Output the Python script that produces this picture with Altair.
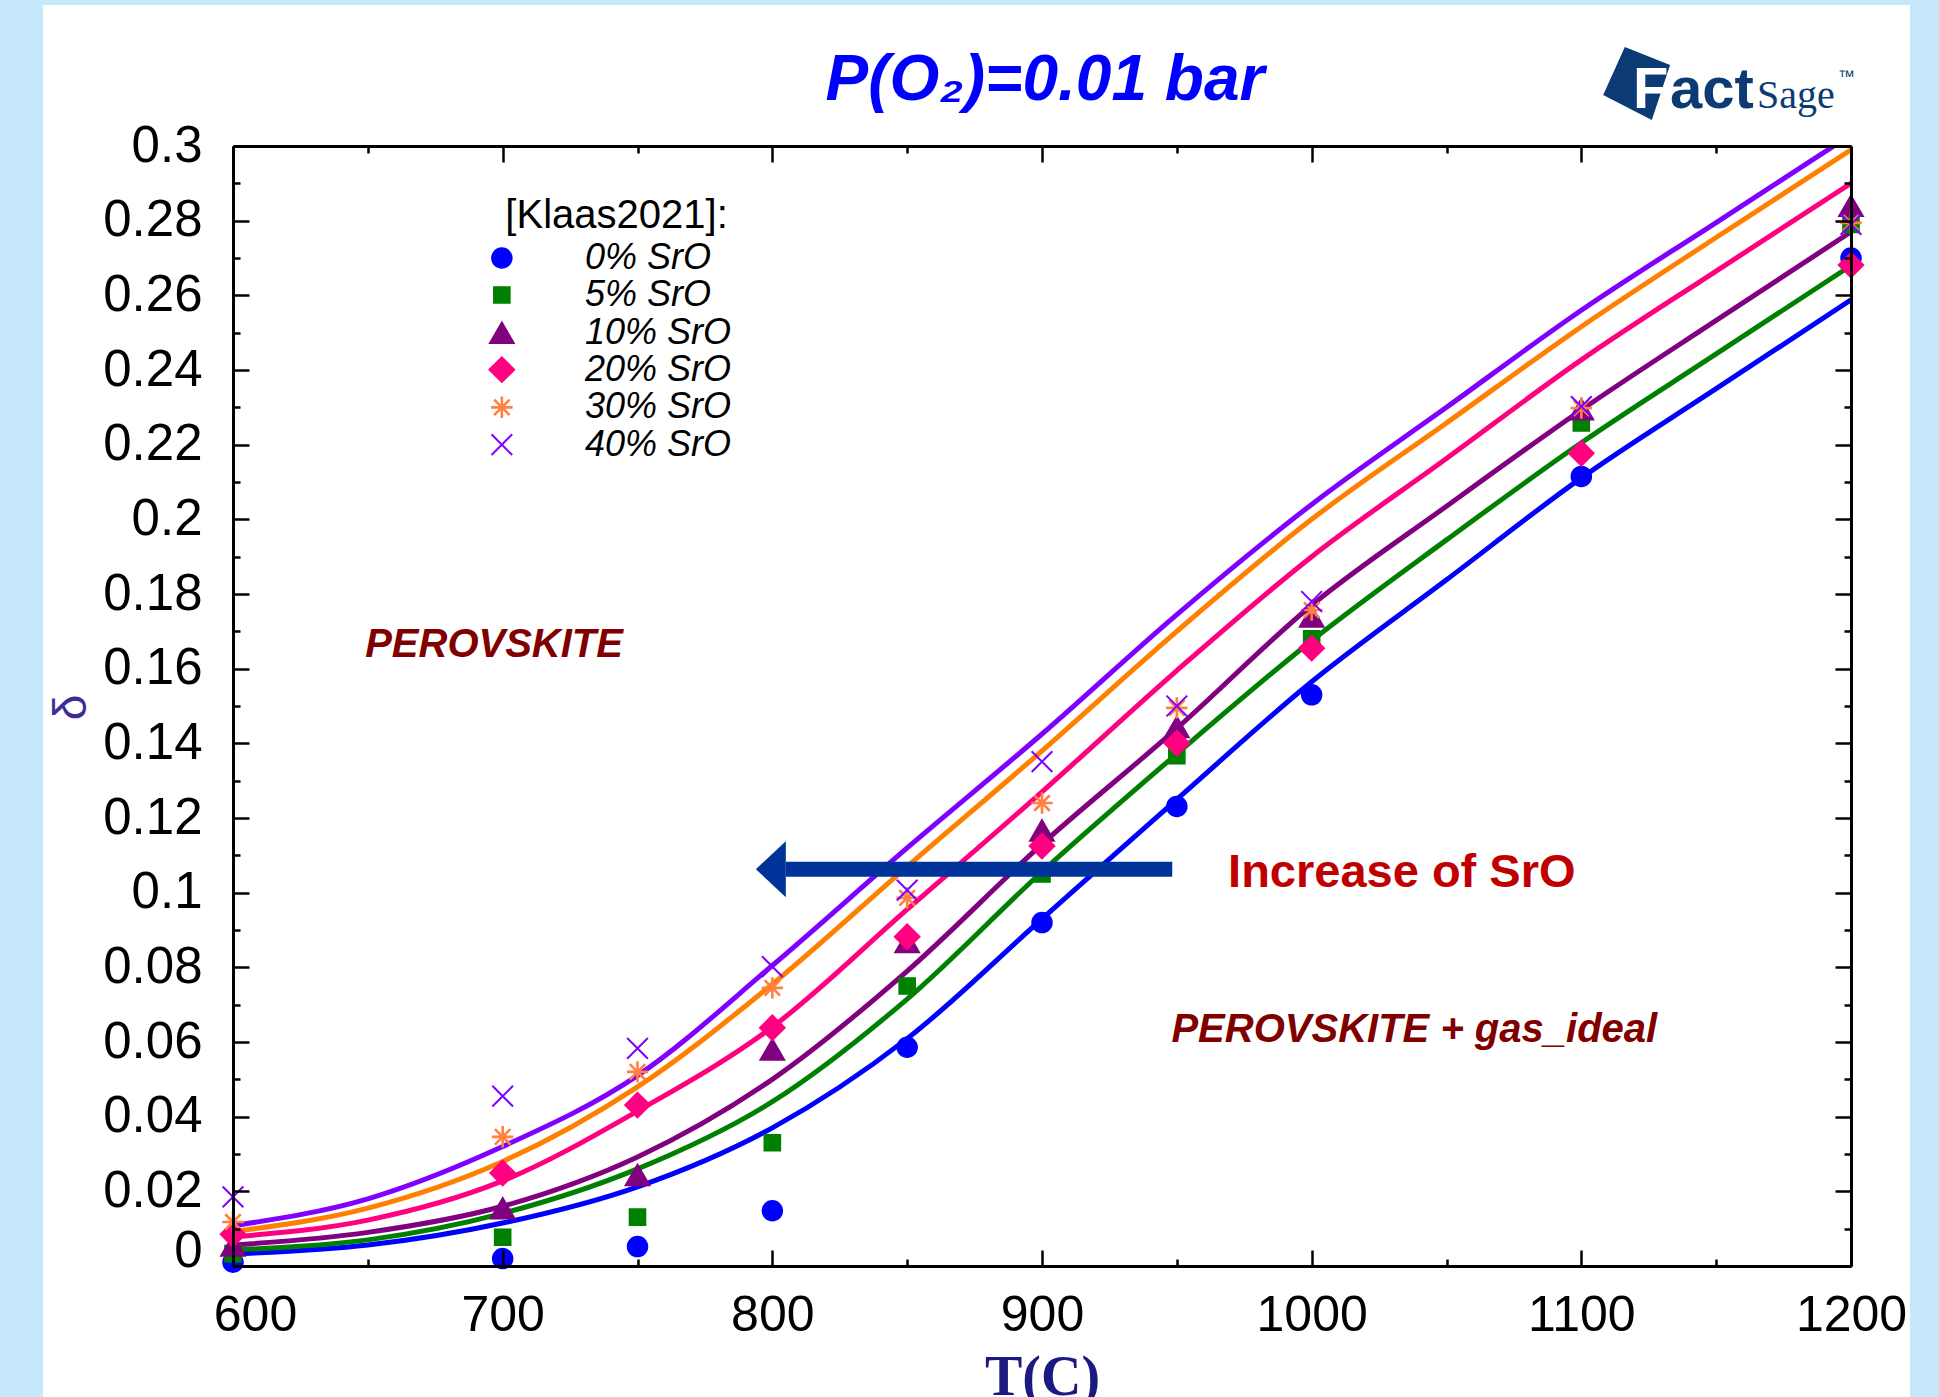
import altair as alt
import pandas as pd

# ---------------- data ----------------
series = ["0% SrO", "5% SrO", "10% SrO", "20% SrO", "30% SrO", "40% SrO"]
line_colors = ["#0000FF", "#008000", "#800080", "#FF0080", "#FF8000", "#8000FF"]
marker_colors = ["#0000FF", "#008000", "#800080", "#FF0080", "#FF8040", "#8000FF"]
marker_shapes = [
    "circle", "square", "triangle-up", "diamond",
    "M-1,0L1,0M0,-1L0,1M-0.72,-0.72L0.72,0.72M-0.72,0.72L0.72,-0.72",
    "M-1,-1L1,1M-1,1L1,-1",
]
marker_sizes = [400, 260, 600, 640, 460, 430]
marker_strokes = [1.5, 1.5, 1.5, 1.5, 2.6, 2.0]

# calculated curves (FactSage)
curve_T = [600, 650, 700, 750, 800, 850, 900, 950, 1000, 1050, 1100, 1150, 1200]
curve_0 = [0.0032, 0.0056, 0.0115, 0.0212, 0.0370, 0.0609, 0.0930, 0.1250, 0.1565, 0.1838, 0.2111, 0.2350, 0.2588]
curve_5 = [0.0043, 0.0070, 0.0141, 0.0260, 0.0440, 0.0715, 0.1056, 0.1372, 0.1675, 0.1945, 0.2205, 0.2443, 0.2680]
curve_10 = [0.0056, 0.0090, 0.0160, 0.0292, 0.0500, 0.0790, 0.1130, 0.1440, 0.1770, 0.2035, 0.2293, 0.2533, 0.2770]
curve_20 = [0.0078, 0.0123, 0.0228, 0.0415, 0.0640, 0.0955, 0.1270, 0.1595, 0.1900, 0.2163, 0.2427, 0.2665, 0.2900]
curve_30 = [0.0092, 0.0155, 0.0280, 0.0480, 0.0755, 0.1070, 0.1380, 0.1700, 0.2000, 0.2258, 0.2516, 0.2755, 0.2990]
curve_40 = [0.0108, 0.0180, 0.0320, 0.0510, 0.0805, 0.1120, 0.1425, 0.1745, 0.2040, 0.2300, 0.2560, 0.2795, 0.3030]

# experimental points [Klaas2021]
exp_T = [600, 700, 750, 800, 850, 900, 950, 1000, 1100, 1200]
exp_0 = [0.0010, 0.0020, 0.0052, 0.0148, 0.0586, 0.0920, 0.1231, 0.1530, 0.2115, 0.2700]
exp_5 = [0.0033, 0.0077, 0.0131, 0.0330, 0.0750, 0.1050, 0.1367, 0.1680, 0.2258, 0.2790]
exp_10 = [0.0055, 0.0155, 0.0244, 0.0580, 0.0868, 0.1167, 0.1444, 0.1740, 0.2295, 0.2840]
exp_20 = [0.0085, 0.0249, 0.0431, 0.0638, 0.0882, 0.1125, 0.1400, 0.1655, 0.2177, 0.2681]
exp_30 = [0.0118, 0.0346, 0.0520, 0.0745, 0.0986, 0.1240, 0.1495, 0.1757, 0.2298, 0.2794]
exp_40 = [0.0185, 0.0455, 0.0583, 0.0802, 0.1007, 0.1351, 0.1500, 0.1780, 0.2302, 0.2790]

# tick values
x_major = [600, 700, 800, 900, 1000, 1100, 1200]
x_minor = [650, 750, 850, 950, 1050, 1150]
y_major = [0, 0.02, 0.04, 0.06, 0.08, 0.1, 0.12, 0.14, 0.16, 0.18, 0.2, 0.22, 0.24, 0.26, 0.28, 0.3]
y_minor = [0.01, 0.03, 0.05, 0.07, 0.09, 0.11, 0.13, 0.15, 0.17, 0.19, 0.21, 0.23, 0.25, 0.27, 0.29]

# in-plot legend (data coordinates)
legend_title = "[Klaas2021]:"
legend_title_T = 701
legend_title_d = 0.2780
legend_sym_T = 699.7
legend_lab_T = 730.5
legend_d = [0.2700, 0.2601, 0.2500, 0.2401, 0.2300, 0.2200]

# annotations (data coordinates)
region_labels = ["PEROVSKITE", "PEROVSKITE + gas_ideal"]
region_T = [649, 948]
region_d = [0.1664, 0.0632]
note_label = ["Increase of SrO"]
note_T = [969]
note_d = [0.1053]
arrow_T_start = [948.3]
arrow_T_end = [805]
arrow_d = [0.1063]
title_text = "P(O₂)=0.01 bar"

# ---------------- tables ----------------
size_of = dict(zip(series, marker_sizes))
sw_of = dict(zip(series, marker_strokes))
curves = [curve_0, curve_5, curve_10, curve_20, curve_30, curve_40]
exps = [exp_0, exp_5, exp_10, exp_20, exp_30, exp_40]
df_curves = pd.DataFrame(
    [{"T": t, "d": v, "series": s} for s, c in zip(series, curves) for t, v in zip(curve_T, c)]
)
df_exp = pd.DataFrame(
    [{"T": t, "d": v, "series": s, "sz": size_of[s], "sw": sw_of[s]}
     for s, c in zip(series, exps) for t, v in zip(exp_T, c)]
)
df_leg = pd.DataFrame({
    "series": series, "d": legend_d,
    "Ts": [legend_sym_T] * len(series), "Tl": [legend_lab_T] * len(series),
    "sz": marker_sizes, "sw": marker_strokes,
})
df_leg_title = pd.DataFrame({"T": [legend_title_T], "d": [legend_title_d], "label": [legend_title]})
df_region = pd.DataFrame({"T": region_T, "d": region_d, "label": region_labels})
df_note = pd.DataFrame({"T": note_T, "d": note_d, "label": note_label})
df_arrow = pd.DataFrame({"T1": arrow_T_start, "T2": arrow_T_end, "d": arrow_d})
df_head = pd.DataFrame({"T": arrow_T_end, "d": arrow_d})
one = pd.DataFrame({"a": [0]})

F = "Liberation Sans"
NAVY = "#0B3A75"
PAGE_BLUE = "#C5E9FB"
xs = alt.Scale(domain=[600, 1200], nice=False, zero=False)
ys = alt.Scale(domain=[0, 0.3], nice=False, zero=False)
fill_scale = alt.Scale(domain=series, range=marker_colors)
shape_scale = alt.Scale(domain=series, range=marker_shapes)


def tick_axis(orient, values, size):
    return alt.Axis(orient=orient, values=values, labels=False, domain=False, grid=False,
                    ticks=True, tickSize=size, tickWidth=2.5, tickColor="black",
                    offset=-size, title=None, zindex=2)


def frame_axis(orient):
    return alt.Axis(orient=orient, labels=False, ticks=False, grid=False, domain=True,
                    domainColor="black", domainWidth=3, title=None, zindex=2)


x_lab = alt.Axis(
    orient="bottom", values=x_major, ticks=False, domain=True, domainColor="black",
    domainWidth=3, grid=False, zindex=2,
    labelFont=F, labelFontSize=50, labelColor="black", labelPadding=24,
    labelFlush=False, labelOverlap=False, format="d",
    labelOffset={"condition": {"test": "datum.value === 600", "value": 22}, "value": 0},
    title="T(C)", titleFont="Liberation Serif", titleFontSize=56, titleFontWeight="bold",
    titleColor="#1A1A80", titleY=128, titleBaseline="alphabetic",
)
y_lab = alt.Axis(
    orient="left", values=y_major, ticks=False, domain=True, domainColor="black",
    domainWidth=3, grid=False, zindex=2,
    labelFont=F, labelFontSize=51, labelColor="black", labelPadding=31,
    labelFlush=False, labelOverlap=False, format="~g",
    labelBaseline={"condition": {"test": "datum.value === 0", "value": "alphabetic"}, "value": "middle"},
    title="δ", titleFont=F, titleFontSize=46, titleFontWeight="normal",
    titleColor="#3A2D96", titleAngle=-90, titleX=-162, titleY=561,
    titleAlign="center", titleBaseline="middle",
)

# light-blue page margins around the white panel
strip_left = alt.Chart(one).mark_rect(color=PAGE_BLUE).encode(
    x=alt.value(-233), x2=alt.value(-190), y=alt.value(-146), y2=alt.value(1251)
)
strip_right = alt.Chart(one).mark_rect(color=PAGE_BLUE).encode(
    x=alt.value(1677), x2=alt.value(1706), y=alt.value(-146), y2=alt.value(1251)
)
strip_top = alt.Chart(one).mark_rect(color=PAGE_BLUE).encode(
    x=alt.value(-233), x2=alt.value(1706), y=alt.value(-146), y2=alt.value(-141)
)

lines = alt.Chart(df_curves).mark_line(strokeWidth=5, interpolate="monotone", clip=True).encode(
    x=alt.X("T:Q", scale=xs, axis=x_lab),
    y=alt.Y("d:Q", scale=ys, axis=y_lab),
    color=alt.Color("series:N", scale=alt.Scale(domain=series, range=line_colors), legend=None),
)

points = alt.Chart(df_exp).mark_point(filled=True, opacity=1).encode(
    x=alt.X("T:Q", scale=xs, axis=tick_axis("bottom", x_major, 16)),
    y=alt.Y("d:Q", scale=ys, axis=tick_axis("left", y_major, 16)),
    fill=alt.Fill("series:N", scale=fill_scale, legend=None),
    stroke=alt.Stroke("series:N", scale=fill_scale, legend=None),
    shape=alt.Shape("series:N", scale=shape_scale, legend=None),
    size=alt.Size("sz:Q", scale=None, legend=None),
    strokeWidth=alt.StrokeWidth("sw:Q", scale=None, legend=None),
)

leg_symbols = alt.Chart(df_leg).mark_point(filled=True, opacity=1).encode(
    x=alt.X("Ts:Q", scale=xs, axis=None),
    y=alt.Y("d:Q", scale=ys, axis=None),
    fill=alt.Fill("series:N", scale=fill_scale, legend=None),
    stroke=alt.Stroke("series:N", scale=fill_scale, legend=None),
    shape=alt.Shape("series:N", scale=shape_scale, legend=None),
    size=alt.Size("sz:Q", scale=None, legend=None),
    strokeWidth=alt.StrokeWidth("sw:Q", scale=None, legend=None),
)
leg_labels = alt.Chart(df_leg).mark_text(
    align="left", baseline="middle", font=F, fontSize=36, fontStyle="italic", color="black"
).encode(
    x=alt.X("Tl:Q", scale=xs, axis=None),
    y=alt.Y("d:Q", scale=ys, axis=None),
    text="series:N",
)
leg_title = alt.Chart(df_leg_title).mark_text(
    align="left", baseline="alphabetic", font=F, fontSize=40, color="black"
).encode(
    x=alt.X("T:Q", scale=xs, axis=None),
    y=alt.Y("d:Q", scale=ys, axis=None),
    text="label:N",
)

region_text = alt.Chart(df_region).mark_text(
    align="left", baseline="middle", font=F, fontSize=40, fontWeight="bold",
    fontStyle="italic", color="#800000"
).encode(
    x=alt.X("T:Q", scale=xs, axis=tick_axis("bottom", x_minor, 7)),
    y=alt.Y("d:Q", scale=ys, axis=tick_axis("left", y_minor, 7)),
    text="label:N",
)

note_text = alt.Chart(df_note).mark_text(
    align="left", baseline="middle", font=F, fontSize=47, fontWeight="bold", color="#C00000"
).encode(
    x=alt.X("T:Q", scale=xs, axis=tick_axis("top", x_major, 16)),
    y=alt.Y("d:Q", scale=ys, axis=tick_axis("right", y_major, 16)),
    text="label:N",
)

arrow_shaft = alt.Chart(df_arrow).mark_rule(strokeWidth=15, color="#003399", strokeCap="butt").encode(
    x=alt.X("T1:Q", scale=xs, axis=tick_axis("top", x_minor, 7)),
    x2="T2:Q",
    y=alt.Y("d:Q", scale=ys, axis=tick_axis("right", y_minor, 7)),
)

arrow_head = alt.Chart(df_head).mark_point(
    shape="M-1.07,0L0,-1L0,1Z", filled=True, size=3136, color="#003399", opacity=1
).encode(
    x=alt.X("T:Q", scale=xs, axis=frame_axis("top")),
    y=alt.Y("d:Q", scale=ys, axis=frame_axis("right")),
)

# title and FactSage logo (decoration above the plot)
title_mark = alt.Chart(one).mark_text(
    text=title_text, font=F, fontSize=64, fontWeight="bold", fontStyle="italic",
    color="#0000FF", align="center", baseline="alphabetic"
).encode(x=alt.value(812), y=alt.value(-46))
logo_shape = alt.Chart(one).mark_point(
    shape="M-0.32,-0.92L0.87,-0.45L0.39,1L-0.89,0.34Z", filled=True, size=5776,
    color=NAVY, opacity=1
).encode(x=alt.value(1404), y=alt.value(-64))
logo_F = alt.Chart(one).mark_text(
    text="F", font=F, fontSize=58, fontWeight="bold", color="white", align="left", baseline="alphabetic"
).encode(x=alt.value(1400), y=alt.value(-38))
logo_act = alt.Chart(one).mark_text(
    text="act", font=F, fontSize=58, fontWeight="bold", color=NAVY, align="left", baseline="alphabetic"
).encode(x=alt.value(1437), y=alt.value(-38))
logo_sage = alt.Chart(one).mark_text(
    text="Sage", font="Liberation Serif", fontSize=40, color=NAVY, align="left", baseline="alphabetic"
).encode(x=alt.value(1524), y=alt.value(-38))
logo_tm = alt.Chart(one).mark_text(
    text="™", font=F, fontSize=17, color=NAVY, align="left", baseline="alphabetic"
).encode(x=alt.value(1605), y=alt.value(-64))

chart = alt.layer(
    strip_left, strip_right, strip_top,
    lines, points, leg_symbols, leg_labels, leg_title,
    region_text, note_text, arrow_shaft, arrow_head,
    title_mark, logo_shape, logo_F, logo_act, logo_sage, logo_tm,
).resolve_axis(
    x="independent", y="independent"
).properties(
    width=1618, height=1120,
    autosize=alt.AutoSizeParams(type="none"),
    padding={"left": 233, "top": 146, "right": 88, "bottom": 131},
    background="white",
).configure_view(
    stroke=None
)

chart.save("out.html", embed_options={"renderer": "svg", "actions": False})
